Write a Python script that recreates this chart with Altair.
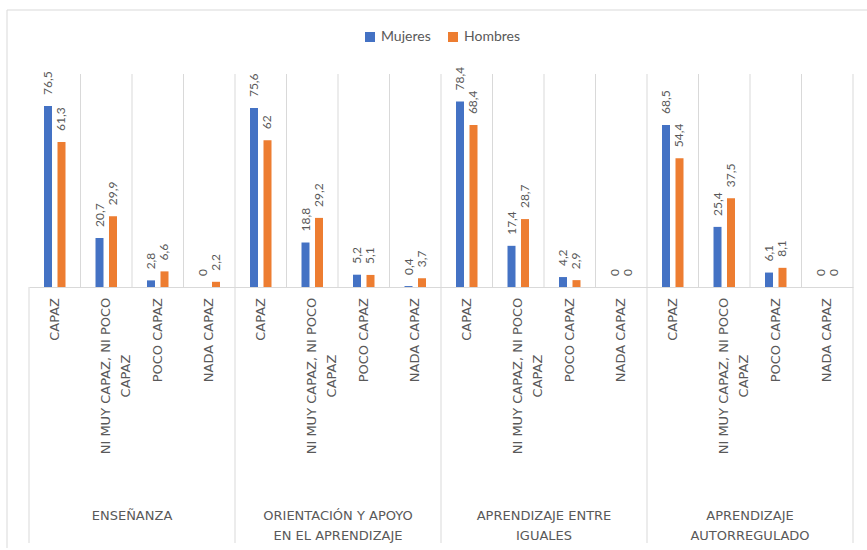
import altair as alt
import pandas as pd

# ---- data ----
groups = ["ENSEÑANZA", "ORIENTACIÓN Y APOYO\nEN EL APRENDIZAJE",
          "APRENDIZAJE ENTRE\nIGUALES", "APRENDIZAJE\nAUTORREGULADO"]
categories = ["CAPAZ", "NI MUY CAPAZ, NI POCO\nCAPAZ", "POCO CAPAZ", "NADA CAPAZ"]
series = ["Mujeres", "Hombres"]
mujeres = [76.5, 20.7, 2.8, 0, 75.6, 18.8, 5.2, 0.4, 78.4, 17.4, 4.2, 0, 68.5, 25.4, 6.1, 0]
hombres = [61.3, 29.9, 6.6, 2.2, 62, 29.2, 5.1, 3.7, 68.4, 28.7, 2.9, 0, 54.4, 37.5, 8.1, 0]
colors = ["#4472C4", "#ED7D31"]

TXT = "#595959"
GRID = "#d9d9d9"
W, H = 824, 213
AXFONT = "DejaVu Sans"
AXSIZE = 13

keys = [f"{gi}-{ci}" for gi in range(len(groups)) for ci in range(len(categories))]

cat_rows = []
for gi, g in enumerate(groups):
    for ci, c in enumerate(categories):
        cat_rows.append({"key": f"{gi}-{ci}", "label": c, "multi": "\n" in c})
cat_df = pd.DataFrame(cat_rows)

bar_rows = []
for i, k in enumerate(keys):
    for s, vals in zip(series, [mujeres, hombres]):
        v = vals[i]
        bar_rows.append({"key": k, "serie": s, "value": v,
                         "txt": f"{v:g}".replace(".", ",")})
bar_df = pd.DataFrame(bar_rows)

grp_df = pd.DataFrame({
    "group": groups,
    "mid": [f"{gi}-1" for gi in range(len(groups))],
    "last": [f"{gi}-{len(categories)-1}" for gi in range(len(groups))],
})

xscale = alt.Scale(domain=keys, paddingInner=0, paddingOuter=0)
xaxis = alt.Axis(labels=False, ticks=False, grid=False, title=None,
                 domainColor=GRID, domainWidth=1)


def X(field, **kw):
    return alt.X(f"{field}:N", sort=keys, scale=xscale, axis=xaxis, **kw)


xoff = alt.XOffset("serie:N", sort=series,
                   scale=alt.Scale(domain=series, range=[15, 36.5],
                                   paddingInner=0.407, paddingOuter=0))
yenc = alt.Y("value:Q", scale=alt.Scale(domain=[0, 90]), axis=None)

grid = alt.Chart(cat_df).mark_rule(color=GRID, strokeWidth=1).encode(
    x=X("key", bandPosition=1), y=alt.value(0), y2=alt.value(H))

seps = alt.Chart(grp_df).mark_rule(color=GRID, strokeWidth=1).encode(
    x=X("last", bandPosition=1), y=alt.value(H), y2=alt.value(469))

left_sep = alt.Chart(grp_df.head(1)).mark_rule(color=GRID, strokeWidth=1).encode(
    x=alt.value(0), y=alt.value(H), y2=alt.value(469))

border_top = alt.Chart(grp_df.head(1)).mark_rule(color=GRID, strokeWidth=1).encode(
    x=alt.value(-22), x2=alt.value(838), y=alt.value(-64))
border_left = alt.Chart(grp_df.head(1)).mark_rule(color=GRID, strokeWidth=1).encode(
    x=alt.value(-22), y=alt.value(-64), y2=alt.value(474))

bars = alt.Chart(bar_df).mark_bar().encode(
    x=X("key"), xOffset=xoff, y=yenc,
    color=alt.Color("serie:N", sort=series,
                    scale=alt.Scale(domain=series, range=colors),
                    legend=alt.Legend(orient="none", legendX=334, legendY=-44,
                                      direction="horizontal", title=None,
                                      symbolType="square", symbolSize=100,
                                      symbolStrokeWidth=0, labelFont="Lato",
                                      labelFontSize=14, labelColor=TXT,
                                      columnPadding=15, labelOffset=4, padding=0)))

vlabels = alt.Chart(bar_df).mark_text(
    angle=270, align="left", baseline="middle", dx=11,
    font="Lato", fontSize=12, color=TXT).encode(
    x=X("key"), xOffset=xoff, y=yenc, text="txt:N")

cat_single = alt.Chart(cat_df[~cat_df["multi"]]).mark_text(
    angle=270, align="right", baseline="middle",
    font=AXFONT, fontSize=AXSIZE, color=TXT).encode(
    x=X("key"), y=alt.value(224), text="label:N")

cat_multi = alt.Chart(cat_df[cat_df["multi"]]).mark_text(
    angle=270, align="center", baseline="middle", lineBreak="\n", lineHeight=20,
    font=AXFONT, fontSize=AXSIZE, color=TXT).encode(
    x=X("key"), y=alt.value(302), text="label:N")

grp_labels = alt.Chart(grp_df).mark_text(
    align="center", baseline="top", lineBreak="\n", lineHeight=20,
    font=AXFONT, fontSize=AXSIZE, color=TXT).encode(
    x=X("mid", bandPosition=1), y=alt.value(435.5), text="group:N")

chart = alt.layer(
    border_top, border_left, grid, seps, left_sep, bars, vlabels,
    cat_single, cat_multi, grp_labels
).properties(
    width=W, height=H,
    padding={"left": 29, "top": 74, "right": 14, "bottom": 263},
    autosize=alt.AutoSizeParams(type="none"),
    background="white",
).configure_view(stroke=None)

chart.save("out.html", embed_options={"renderer": "svg", "actions": False})
